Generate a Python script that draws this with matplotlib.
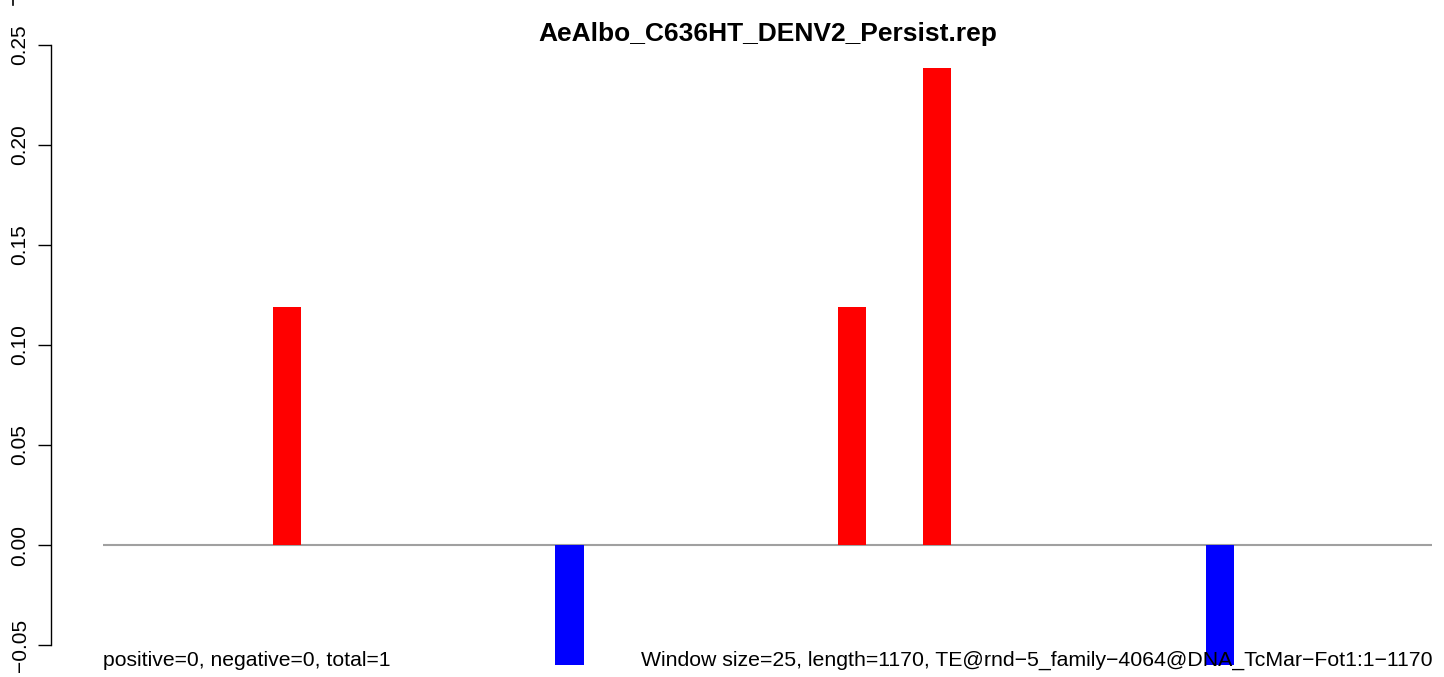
import numpy as np
import matplotlib
matplotlib.use('Agg')
import matplotlib.pyplot as plt
from matplotlib.lines import Line2D

plt.rcParams['font.family'] = ['Liberation Sans', 'DejaVu Sans']

TITLE = 'AeAlbo_C636HT_DENV2_Persist.rep'
LEFT_NOTE = 'positive=0, negative=0, total=1'
RIGHT_NOTE = 'Window size=25, length=1170, TE@rnd\u22125_family\u22124064@DNA_TcMar\u2212Fot1:1\u22121170'

# one value per 25 bp window (47 windows)
n_windows = 47
hit_windows = [6, 16, 26, 29, 39]
hit_values = [0.119, -0.06, 0.119, 0.2385, -0.06]
yticks = [-0.05, 0.00, 0.05, 0.10, 0.15, 0.20, 0.25]
ytick_labels = ['\u22120.05', '0.00', '0.05', '0.10', '0.15', '0.20', '0.25']

values = np.zeros(n_windows)
values[hit_windows] = hit_values
colors = ['red' if v > 0 else 'blue' for v in values]

W, H, DPI = 1444, 677, 100
fig = plt.figure(figsize=(W / DPI, H / DPI), dpi=DPI)
fig.patch.set_facecolor('white')

# plot region in pixels: x 103..1432, y 41..665
left, right, top, bottom = 103, 1432, 41, 665
ax = fig.add_axes([left / W, 1 - bottom / H, (right - left) / W, (bottom - top) / H])

ax.bar(np.arange(n_windows) + 0.5, values, width=1.0, color=colors, linewidth=0, zorder=2)
ax.axhline(0, color='#a0a0a0', linewidth=1.5, zorder=1)

ax.set_xlim(0, n_windows)
ax.set_ylim(-0.06, 0.252)

for s in ['top', 'right', 'bottom']:
    ax.spines[s].set_visible(False)
ax.spines['left'].set_position(('outward', 52 * 72 / DPI))
ax.spines['left'].set_bounds(-0.05, 0.25)
ax.spines['left'].set_linewidth(1.0)
ax.set_xticks([])
ax.set_yticks(yticks)
ax.set_yticklabels(ytick_labels, rotation=90, va='center', fontsize=15)
ax.tick_params(axis='y', length=9.4, width=1.0, pad=6, colors='black')

ax.set_title(TITLE, fontsize=19, fontweight='bold', y=1.0, pad=0)

ax.text(0, -0.0575, LEFT_NOTE, ha='left', va='center', fontsize=15.2, zorder=3)
ax.text(n_windows, -0.0575, RIGHT_NOTE, ha='right', va='center', fontsize=15.3, zorder=3)

# tail of the panel above, cut by the image edge
fig.add_artist(Line2D([13 / W, 13 / W], [1.0, 1 - 5 / H], transform=fig.transFigure,
                      color='black', linewidth=1.2))

fig.savefig('out.png', dpi=DPI)
